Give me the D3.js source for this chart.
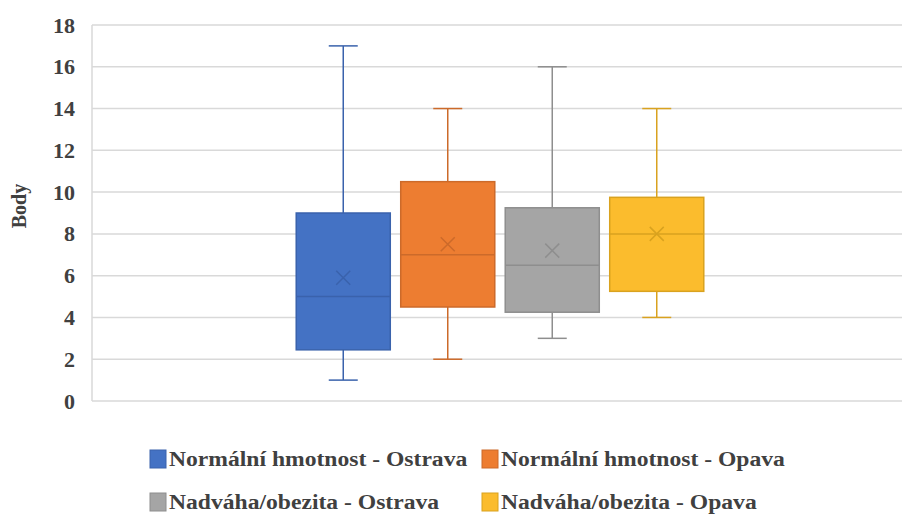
<!DOCTYPE html>
<html>
<head>
<meta charset="utf-8">
<script src="https://cdn.jsdelivr.net/npm/d3@7"></script>
<style>
html,body{margin:0;padding:0;background:#fff;}
svg{display:block;}
svg text{font-family:"Liberation Serif","DejaVu Serif",serif;font-weight:bold;fill:#404040;}
</style>
</head>
<body>
<svg id="chart" width="902" height="516"></svg>
<script>
const series = ["Normální hmotnost - Ostrava","Normální hmotnost - Opava","Nadváha/obezita - Ostrava","Nadváha/obezita - Opava"];
const minVals = [1, 2, 3, 4];
const q1Vals = [2.45, 4.5, 4.25, 5.25];
const medianVals = [5, 7, 6.5, 8];
const q3Vals = [9, 10.5, 9.25, 9.75];
const maxVals = [17, 14, 16, 14];
const meanVals = [5.9, 7.5, 7.2, 8];
const yTicks = [0,2,4,6,8,10,12,14,16,18];
const fills = ["#4472C4","#ED7D31","#A5A5A5","#FBBC2D"];
const strokes = ["#3A62AC","#CC6A2A","#8E8E8E","#D9A21F"];
const yTitle = "Body";

const svg = d3.select("#chart");
const fs = "20px";
const stretch = (sel, k) => sel.each(function(){
  const w = this.getComputedTextLength();
  d3.select(this).attr("textLength", w*k).attr("lengthAdjust","spacingAndGlyphs");
});

const y = d3.scaleLinear().domain([0,18]).range([401,25]);
const x = d3.scaleBand().domain(series).range([291,709]).paddingInner(0.1).paddingOuter(0.05);

svg.append("g").selectAll("line").data(yTicks).join("line")
  .attr("x1",92).attr("x2",910)
  .attr("y1",d=>y(d)).attr("y2",d=>y(d))
  .attr("stroke","#D9D9D9").attr("stroke-width",1.5);
svg.append("line").attr("x1",92).attr("x2",92).attr("y1",y(18)).attr("y2",y(0))
  .attr("stroke","#D9D9D9").attr("stroke-width",1.5);

const yAxis = d3.axisLeft(y).tickValues(yTicks).tickSize(0).tickPadding(0);
const ga = svg.append("g").attr("transform","translate(75,0)").call(yAxis);
ga.attr("font-family",null).attr("font-size",null);
ga.select(".domain").remove();
ga.selectAll("text").style("font-size",fs).attr("dy","0.35em").call(stretch,1.1);

svg.append("text").attr("transform","translate(26,206) rotate(-90)")
  .attr("text-anchor","middle").style("font-size",fs).text(yTitle);

const data = series.map((s,i)=>({s,i,min:minVals[i],q1:q1Vals[i],med:medianVals[i],q3:q3Vals[i],max:maxVals[i],mean:meanVals[i]}));
const g = svg.append("g").selectAll("g").data(data).join("g");
g.each(function(d){
  const G = d3.select(this);
  const cx = x(d.s)+x.bandwidth()/2;
  const bw = x.bandwidth();
  const st = strokes[d.i];
  const capW = 29;
  G.append("line").attr("x1",cx).attr("x2",cx).attr("y1",y(d.max)).attr("y2",y(d.q3)).attr("stroke",st).attr("stroke-width",1.5);
  G.append("line").attr("x1",cx).attr("x2",cx).attr("y1",y(d.q1)).attr("y2",y(d.min)).attr("stroke",st).attr("stroke-width",1.5);
  G.append("line").attr("x1",cx-capW/2).attr("x2",cx+capW/2).attr("y1",y(d.max)).attr("y2",y(d.max)).attr("stroke",st).attr("stroke-width",1.5);
  G.append("line").attr("x1",cx-capW/2).attr("x2",cx+capW/2).attr("y1",y(d.min)).attr("y2",y(d.min)).attr("stroke",st).attr("stroke-width",1.5);
  G.append("rect").attr("x",x(d.s)).attr("y",y(d.q3)).attr("width",bw).attr("height",y(d.q1)-y(d.q3))
    .attr("fill",fills[d.i]).attr("stroke",st).attr("stroke-width",1.5);
  G.append("line").attr("x1",x(d.s)).attr("x2",x(d.s)+bw).attr("y1",y(d.med)).attr("y2",y(d.med)).attr("stroke",st).attr("stroke-width",1.5);
  const m = 7, my = y(d.mean);
  G.append("path").attr("d",`M${cx-m},${my-m}L${cx+m},${my+m}M${cx-m},${my+m}L${cx+m},${my-m}`)
    .attr("stroke",st).attr("stroke-width",1.5).attr("fill","none");
});

const legPos = [[150,459],[482,459],[150,502],[482,502]];
const lg = svg.append("g").selectAll("g").data(series).join("g")
  .attr("transform",(d,i)=>`translate(${legPos[i][0]},${legPos[i][1]})`);
lg.append("rect").attr("x",0).attr("y",-9).attr("width",16).attr("height",18)
  .attr("fill",(d,i)=>fills[i]).attr("stroke",(d,i)=>strokes[i]).attr("stroke-width",1);
lg.append("text").attr("x",19).attr("y",0).attr("dy","0.35em")
  .style("font-size",fs).text(d=>d).call(stretch,1.18);
</script>
</body>
</html>
